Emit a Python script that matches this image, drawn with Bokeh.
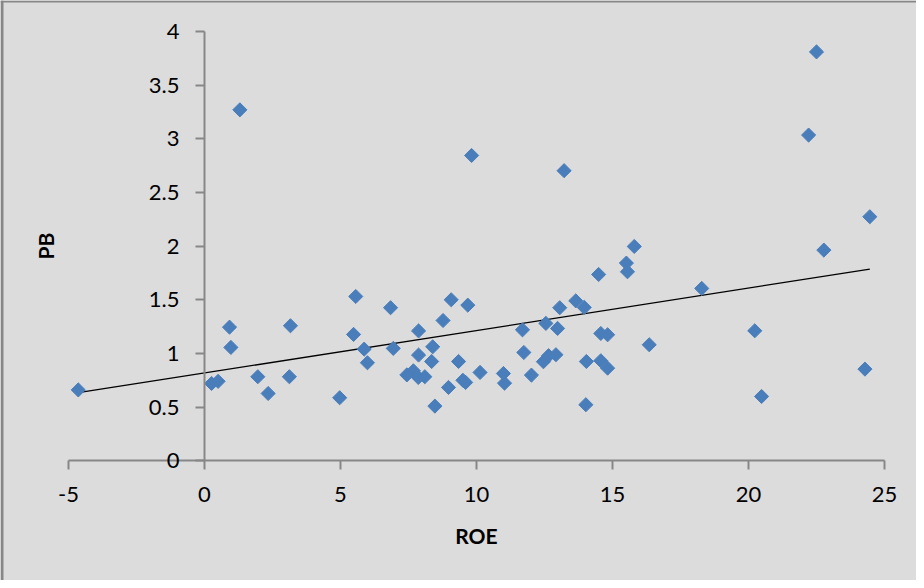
from bokeh.plotting import figure
from bokeh.models import LinearAxis, Range1d, FixedTicker, Span
from bokeh.embed import file_html
from bokeh.resources import INLINE
import math

# ---- data ----
roe = [-4.64, 0.26, 0.50, 1.30, 0.92, 0.97, 1.96, 2.34, 3.16, 3.12,
       4.97, 5.48, 5.56, 5.87, 5.99, 6.84, 6.94, 7.44, 7.68, 7.86,
       8.10, 7.87, 7.87, 8.39, 8.35, 8.47, 8.77, 8.97, 9.07, 9.34,
       9.50, 9.60, 9.68, 9.82, 10.13, 10.99, 11.03, 11.69, 11.74, 12.02,
       12.46, 12.65, 12.92, 12.55, 12.98, 13.06, 13.22, 13.65, 13.96, 14.04,
       14.02, 14.49, 14.57, 14.82, 14.57, 14.82, 15.51, 15.55, 15.80, 16.35,
       18.28, 20.23, 20.48, 22.21, 22.50, 22.77, 24.46, 24.28]
pb = [0.66, 0.72, 0.74, 3.27, 1.245, 1.056, 0.783, 0.627, 1.258, 0.783,
      0.587, 1.177, 1.531, 1.04, 0.913, 1.426, 1.047, 0.80, 0.838, 0.776,
      0.783, 1.21, 0.985, 1.062, 0.925, 0.509, 1.307, 0.683, 1.50, 0.925,
      0.75, 0.73, 1.45, 2.845, 0.823, 0.813, 0.723, 1.22, 1.009, 0.798,
      0.923, 0.979, 0.988, 1.28, 1.233, 1.426, 2.703, 1.49, 1.429, 0.925,
      0.522, 1.736, 1.186, 1.174, 0.932, 0.863, 1.842, 1.761, 1.997, 1.081,
      1.606, 1.211, 0.599, 3.035, 3.81, 1.963, 2.274, 0.854]

trend_roe = [-4.64, 24.46]
trend_pb = [0.634, 1.786]

x_ticks = [-5, 0, 5, 10, 15, 20, 25]
x_tick_labels = ["-5", "0", "5", "10", "15", "20", "25"]
y_ticks = [0, 0.5, 1, 1.5, 2, 2.5, 3, 3.5, 4]
y_tick_labels = ["0", "0.5", "1", "1.5", "2", "2.5", "3", "3.5", "4"]

# ---- style ----
BG = "#DCDCDC"
AXIS = "#878787"
BLUE = "#4A7EBB"
FONT = "Lato"

W, H = 916, 580
x0, x1 = -7.5, 26.176
y0, y1 = -1.116, 4.289

p = figure(width=W, height=H, x_range=Range1d(x0, x1), y_range=Range1d(y0, y1),
           output_backend="svg", toolbar_location=None,
           x_axis_type=None, y_axis_type=None, min_border=0,
           background_fill_color=BG, border_fill_color=BG,
           outline_line_color=None)

xaxis = LinearAxis(fixed_location=0, bounds=(-5, 25),
                   ticker=FixedTicker(ticks=x_ticks),
                   major_label_overrides={t: l for t, l in zip(x_ticks, x_tick_labels)},
                   axis_label="ROE")
yaxis = LinearAxis(fixed_location=0, bounds=(0, 4),
                   ticker=FixedTicker(ticks=y_ticks),
                   major_label_overrides={t: l for t, l in zip(y_ticks, y_tick_labels)},
                   axis_label="PB")
for ax in (xaxis, yaxis):
    ax.axis_line_color = AXIS
    ax.axis_line_width = 2
    ax.major_tick_line_color = AXIS
    ax.major_tick_line_width = 2
    ax.major_tick_out = 9
    ax.major_tick_in = 0
    ax.minor_tick_line_color = None
    ax.major_label_text_font = FONT
    ax.major_label_text_font_size = "22px"
    ax.major_label_text_color = "black"
    ax.axis_label_text_font = FONT
    ax.axis_label_text_font_size = "21px"
    ax.axis_label_text_font_style = "bold"
    ax.axis_label_text_color = "black"
xaxis.major_label_standoff = 17
xaxis.axis_label_standoff = 18
yaxis.major_label_standoff = 16
yaxis.axis_label_standoff = 88
p.add_layout(xaxis, "below")
p.add_layout(yaxis, "left")

p.line(trend_roe, trend_pb, line_color="black", line_width=1.3)
p.scatter(roe, pb, marker="square", size=10, angle=math.pi / 4,
          fill_color=BLUE, line_color=BLUE, line_width=1)

# chart-area border (left and top edges)
px_x = (x1 - x0) / W
px_y = (y1 - y0) / H
p.add_layout(Span(location=x0 + 1.5 * px_x, dimension="height",
                  line_color=AXIS, line_width=3))
p.add_layout(Span(location=y1 - 1.0 * px_y, dimension="width",
                  line_color=AXIS, line_width=2))

open("out.html", "w").write(file_html(p, INLINE))
